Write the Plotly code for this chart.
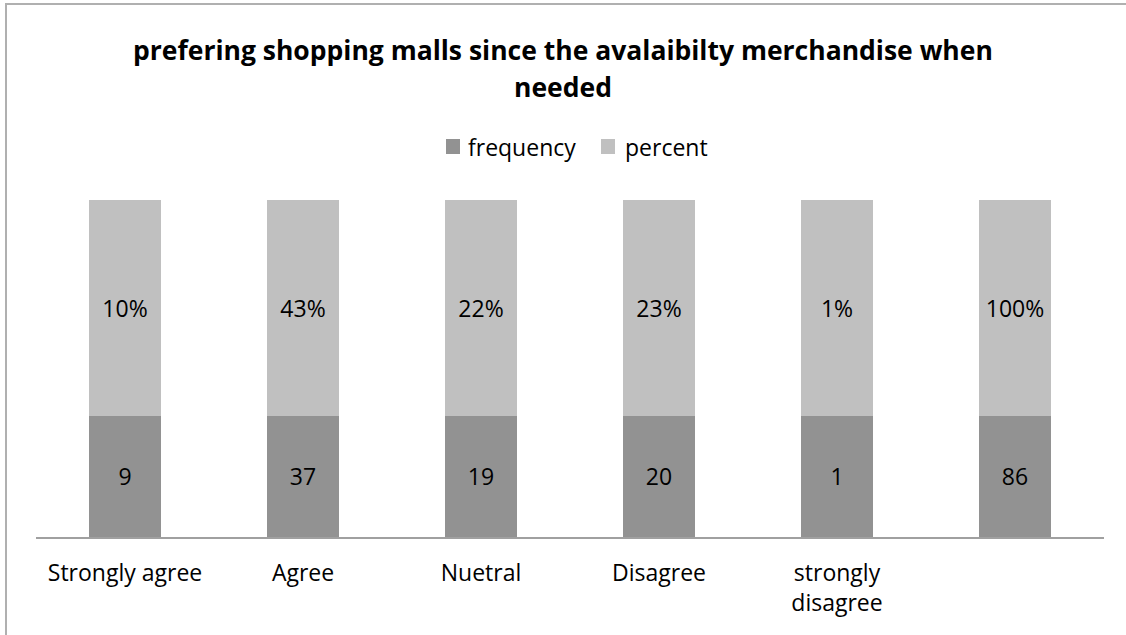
import plotly.graph_objects as go

# Survey responses: agreement with preferring malls for merchandise availability
categories = ["Strongly agree", "Agree", "Nuetral", "Disagree", "strongly<br>disagree", ""]
frequency = [9, 37, 19, 20, 1, 86]
percent = [10, 43, 22, 23, 1, 100]

# Column split of each 100% stacked column (share of the column per series)
frequency_share = [0.36, 0.36, 0.36, 0.36, 0.36, 0.36]
percent_share = [0.64, 0.64, 0.64, 0.64, 0.64, 0.64]

series_names = ["frequency", "percent"]
series_colors = ["#929292", "#c0c0c0"]

title_lines = ["prefering shopping malls since the avalaibilty merchandise when", "needed"]

x_pos = list(range(len(categories)))
FONT = "Open Sans, Liberation Sans, sans-serif"
label_font = dict(family=FONT, size=23, color="#000000")
title_font = dict(family=FONT, size=26.5, color="#000000")

W, H = 1126, 635
L, R, T, B = 36, 22, 200, 98
plot_h = H - T - B
plot_w = W - L - R


def px_x(px):
    return (px - L) / plot_w


def px_y(py):
    return (H - B - py) / plot_h


fig = go.Figure()
fig.add_trace(go.Bar(
    x=x_pos, y=frequency_share, name=series_names[0],
    marker=dict(color=series_colors[0], line=dict(width=0)),
    text=[str(v) for v in frequency], textposition="inside",
    insidetextanchor="middle", textfont=label_font,
    hoverinfo="skip",
))
fig.add_trace(go.Bar(
    x=x_pos, y=percent_share, name=series_names[1],
    marker=dict(color=series_colors[1], line=dict(width=0)),
    text=[f"{v}%" for v in percent], textposition="inside",
    insidetextanchor="middle", textfont=label_font,
    hoverinfo="skip",
))

fig.update_layout(
    width=W, height=H,
    margin=dict(l=L, r=R, t=T, b=B),
    barmode="stack", bargap=0.6,
    paper_bgcolor="white", plot_bgcolor="white",
    showlegend=False,
)

fig.update_xaxes(
    tickvals=x_pos, ticktext=categories, range=[-0.5, len(categories) - 0.5],
    showgrid=False, zeroline=False, showline=True, linecolor="#a0a0a0", linewidth=2,
    ticks="", tickfont=label_font, ticklabelstandoff=14, fixedrange=True,
)
fig.update_yaxes(
    range=[0, 1], visible=False, showgrid=False, zeroline=False, fixedrange=True,
)

# Two-line bold chart title, centred on the chart
for line, cy in zip(title_lines, [50, 87]):
    fig.add_annotation(
        text=f"<b>{line}</b>", xref="paper", yref="paper",
        x=px_x(W / 2), y=px_y(cy), xanchor="center", yanchor="middle",
        showarrow=False, font=title_font,
    )

# Legend: colour keys followed by series names
legend_keys = [(446, 466), (601, 623)]
for (key_x, text_x), name, color in zip(legend_keys, series_names, series_colors):
    fig.add_shape(
        type="rect", xref="paper", yref="paper",
        x0=px_x(key_x), x1=px_x(key_x + 14), y0=px_y(154), y1=px_y(139),
        fillcolor=color, line=dict(width=0),
    )
    fig.add_annotation(
        text=name, xref="paper", yref="paper",
        x=px_x(text_x), y=px_y(147), xanchor="left", yanchor="middle",
        showarrow=False, font=label_font,
    )

# Chart frame (top and left edges visible)
fig.add_shape(
    type="rect", xref="paper", yref="paper",
    x0=px_x(6), x1=1.2, y0=-0.5, y1=px_y(4),
    line=dict(color="#b0b0b0", width=2), layer="below",
)

fig.write_html("out.html", config={"displayModeBar": False})
